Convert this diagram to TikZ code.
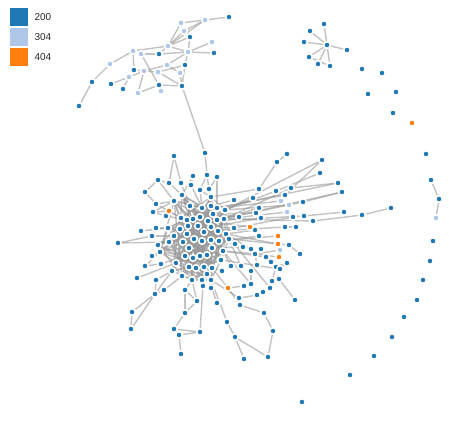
\documentclass[tikz,border=0pt]{standalone}
\usepackage{fontspec}
\newfontfamily\legendfont{Liberation Sans}
\usepackage{tikz}
\usetikzlibrary{positioning,backgrounds}
\definecolor{OKBlue}{HTML}{1F77B4}
\definecolor{CachedBlue}{HTML}{AEC7E8}
\definecolor{MissingOrange}{HTML}{FF7F0E}
\definecolor{LinkGray}{HTML}{999999}

\begin{document}
\begin{tikzpicture}[
  x=1pt,y=-1pt,
  hit/.style={circle,draw=white,line width=1.5pt,minimum size=6.5pt,inner sep=0pt},
  ok/.style={hit,fill=OKBlue},
  cached/.style={hit,fill=CachedBlue},
  missing/.style={hit,fill=MissingOrange},
  link/.style={draw=LinkGray,draw opacity=0.6,line width=1.4pt},
  key/.style={minimum size=18pt,inner sep=0pt,anchor=north west},
  keylabel/.style={font=\legendfont\fontsize{10}{12}\selectfont,inner sep=0pt,text=black!85}
]
\useasboundingbox (0,0) rectangle (449,424);

% legend
\node[key,fill=OKBlue] (key200) at (10,8) {};
\node[key,fill=CachedBlue] (key304) at (10,28) {};
\node[key,fill=MissingOrange] (key404) at (10,48) {};
\node[keylabel,right=6pt of key200] (lab200) {200};
\node[keylabel,right=6pt of key304] (lab304) {304};
\node[keylabel,right=6pt of key404] (lab404) {404};

% dense core
\foreach \x/\y [count=\n] in {182/195,174/201,190/206,202/208,211/206,217/208,
  211/197,213/214,181/218,187/220,193/219,200/217,208/221,217/220,188/226,
  198/226,180/229,204/232,211/227,218/231,168/228,174/236,187/234,194/239,
  169/242,183/242,202/241,211/240,219/241,189/248,212/248,207/255,200/256,
  193/258,185/256,189/267,196/268,204/267,212/268,182/276,192/280,202/280,
  211/280,224/219,225/210,226/234,229/239,223/251,160/252,176/263,158/245,
  172/271,207/274,221/260}
  \node[ok] (i\n) at (\x,\y) {};

% outer ring of the big component
\foreach \x/\y [count=\n] in {205/153,174/156,193/176,207/175,217/177,158/180,
  169/183,181/183,191/185,145/192,200/190,209/189,156/204,153/212,166/216,
  156/228,141/231,118/243,152/236,152/256,145/266,161/264,156/280,137/278,
  164/290,155/294,185/290,203/286,211/288,197/301,222/271,231/266,241/266,
  251/271,257/265,244/286,251/284,257/295,263/292,270/288,272/281,279/279,
  276/267,287/263,295/300,240/305,264/313,273/331,268/357,244/359,235/337,
  227/322,200/332,179/335,174/329,181/354,132/312,131/329,255/254,271/262,
  300/254,235/244,243/247,251/249,261/249,259/236,266/257,280/269,239/298,
  217/303,287/154,277/162,322/160,320/173,338/183,342/192,303/202,276/191,
  285/195,291/188,259/189,234/200,253/198,259/208,261/218,256/213,293/217,
  304/216,313/221,344/212,362/215,391/208,285/227,296/227,255/230,289/245,
  239/217,234/228,185/313}
  \node[ok] (p\n) at (\x,\y) {};

\foreach \x/\y [count=\n] in {281/201,289/205,287/212,280/250}
  \node[cached] (l\n) at (\x,\y) {};
\foreach \x/\y [count=\n] in {169/211,250/227,278/236,278/244,279/257,228/288}
  \node[missing] (o\n) at (\x,\y) {};

% upper left component
\foreach \x/\y/\c [count=\n] in {229/17/OKBlue,205/20/CachedBlue,181/23/CachedBlue,
  184/31/CachedBlue,190/37/OKBlue,212/42/CachedBlue,168/46/CachedBlue,
  188/52/CachedBlue,214/53/OKBlue,133/51/CachedBlue,141/54/CachedBlue,
  159/54/OKBlue,110/64/CachedBlue,167/65/CachedBlue,185/65/OKBlue,
  134/70/OKBlue,144/71/CachedBlue,158/72/CachedBlue,180/73/CachedBlue,
  129/77/CachedBlue,92/82/OKBlue,111/84/OKBlue,123/89/OKBlue,159/85/OKBlue,
  182/86/OKBlue,138/93/CachedBlue,161/91/CachedBlue,79/106/OKBlue}
  \node[hit,fill=\c] (u\n) at (\x,\y) {};

% star on the upper right
\node[ok] (hub) at (327,45) {};
\foreach \x/\y [count=\n] in {324/24,310/31,304/42,347/50,309/57,318/64,330/66}
  \node[ok] (s\n) at (\x,\y) {};

% short chain on the right
\node[ok] (t1) at (431,180) {};
\node[ok] (t2) at (439,199) {};
\node[cached] (t3) at (436,218) {};

% lone nodes
\foreach \x/\y [count=\n] in {362/69,382/73,368/94,396/92,393/113,426/154,
  433/241,430/261,423/280,417/300,404/317,392/337,374/356,350/375,302/402}
  \node[ok] (z\n) at (\x,\y) {};
\node[missing] (z0) at (412,123) {};

\begin{scope}[on background layer]
  \foreach \i in {1,...,54}
    \foreach \k in {2,7,11,16,26} {
      \pgfmathtruncatemacro\j{mod(\i+\k-1,54)+1}
      \draw[link] (i\i) -- (i\j);
    }
  \foreach \a/\b in {p1/p4,p4/p11,p2/p8,p2/p7,p3/p9,p3/i1,p4/p12,p5/i6,p5/p12,
    p6/p7,p6/i2,p7/i1,p8/i3,p9/i4,p10/p13,p10/p6,p11/i4,p12/i5,p11/i7,p13/i2,
    p13/i9,p14/i2,p14/p15,p15/i10,p16/i21,p16/p19,p17/i21,p18/p19,p18/i25,
    p19/i22,p20/i49,p20/i26,p21/p22,p21/i49,p22/i35,p23/i52,p23/p26,p24/i50,
    p25/i40,p25/p26,p26/i52,p27/i41,p27/p30,p28/i42,p29/i43,p30/i41,p99/p27,
    p99/p30,p31/i39,p32/i48,p33/i47,p34/p37,p35/p59,p36/o6,p37/i48,p38/p39,
    p39/p40,p40/i46,p41/p43,p42/p45,p43/p44,p44/p68,p46/o6,p46/p47,p47/p48,
    p48/p49,p49/p51,p50/p51,p51/p52,p52/i43,p53/p55,p53/p54,p53/p28,p56/p54,
    p55/p99,p57/p58,p57/p26,p58/p26,p59/i48,p60/p67,p61/p96,p62/i47,p63/i31,
    p64/i46,p65/p59,p66/i29,p67/i48,p68/i54,p69/p38,p69/i43,p70/i53,
    p71/p72,p72/p81,p81/i7,p73/p79,p79/i6,p74/p78,p78/i45,p75/p80,p80/i44,
    p76/p77,p77/i14,p92/p91,p91/p89,p89/i44,p90/p88,p88/i13,p87/i20,p82/i5,
    p83/i45,p84/i14,p85/i19,p86/i8,p93/i20,p94/p93,p95/i46,p96/i47,p97/i8,
    p98/i19,p73/i45,p75/i6,p76/i14,
    l1/i6,l2/i45,l3/i44,l4/p59,o1/p14,o1/i9,o2/i13,o3/i29,o4/i46,o5/p59,o6/i39}
    \draw[link] (\a) -- (\b);
  \foreach \a/\b in {u1/u2,u2/u3,u2/u4,u3/u7,u2/u7,u4/u7,u4/u5,u5/u7,u5/u8,
    u7/u8,u8/u6,u8/u9,u7/u12,u7/u10,u10/u11,u11/u12,u12/u8,u10/u13,u13/u21,
    u21/u28,u10/u16,u14/u8,u14/u17,u16/u17,u17/u18,u18/u15,u17/u20,u20/u22,
    u20/u23,u17/u26,u26/u24,u24/u27,u24/u25,u25/u19,u19/u14,u15/u8,u11/u24,
    u25/u18,u15/u25,u25/p1}
    \draw[link] (\a) -- (\b);
  \foreach \n in {1,...,7}
    \draw[link] (hub) -- (s\n);
  \draw[link] (s5) -- (s7);
  \draw[link] (t1) -- (t2) -- (t3);
\end{scope}
\end{tikzpicture}
\end{document}
